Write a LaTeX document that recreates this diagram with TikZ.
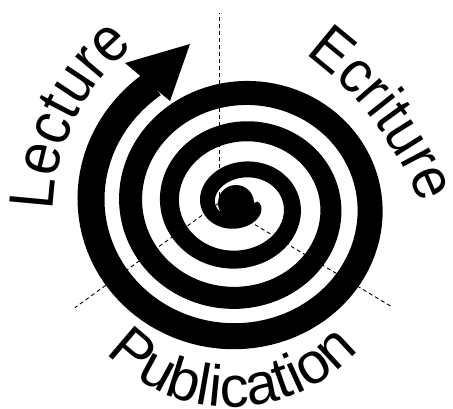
\documentclass[tikz,border=0pt]{standalone}
\usepackage{fontspec}
\newfontfamily\arialfont{Liberation Sans}
\newfontfamily\arialnarrow[FakeStretch=0.9]{Liberation Sans}
\newfontfamily\arialsemi[FakeStretch=0.93]{Liberation Sans}
\newcommand{\lecturefont}{\arialnarrow\fontsize{63}{66}\selectfont}
\newcommand{\ecriturefont}{\arialsemi\fontsize{60}{63}\selectfont}
\newcommand{\publifont}{\arialfont\fontsize{58}{60}\selectfont}
\usetikzlibrary{decorations.text}

\begin{document}
\begin{tikzpicture}[x=1pt, y=1pt,
        dashline/.style={black, line width=0.9pt, dash pattern=on 4pt off 3pt},
        arctext/.style 2 args={decorate, decoration={text along path, text={|#1|#2}}},
        declare function={rx(\t)=32.5+9.5*\t+0.02*\t*\t; ry(\t)=25.5+9.6*\t; wd(\t)=15+1.0*\t;}]
        \useasboundingbox (0,0) rectangle (453,408);

        % Hub of the three sectors
        \coordinate (hub) at (219,205);
        \coordinate (eye) at (240.5,203);

        % Draw dashed sector borders
        \foreach \ang/\len in {90/190, 216/178, 329/203}
            \draw[dashline] (hub) -- ++(\ang:\len);

        % Draw the spiral band, widening outwards
        \fill[black] plot[domain=-2.2:12.62, samples=400, variable=\t]
            ({240.5+(rx(\t)+wd(\t)/2)*cos(180-90*\t)}, {203+(ry(\t)+wd(\t)/2)*sin(180-90*\t)})
            -- plot[domain=12.62:-2.2, samples=400, variable=\t]
            ({240.5+(rx(\t)-wd(\t)/2)*cos(180-90*\t)}, {203+(ry(\t)-wd(\t)/2)*sin(180-90*\t)})
            -- cycle;

        % Center blob and arrow head
        \fill[black] (236,205) circle (18);
        \fill[black] (125,345) -- (190,364) -- (170,307) -- cycle;

        % Labels along arcs
        \coordinate (lectureC) at (270,193);
        \coordinate (ecritureC) at (105,82);
        \coordinate (publiC) at (231,172);
        \path[arctext={\lecturefont}{Lecture}] (lectureC) ++(178.8:217) arc[start angle=178.8, end angle=110, radius=217];
        \path[arctext={\ecriturefont}{Ecriture}] (ecritureC) ++(53.7:338) arc[start angle=53.7, end angle=-10, radius=338];
        \path[arctext={\publifont}{Publication}] (publiC) ++(223.2:171) arc[start angle=223.2, end angle=340, radius=171];
\end{tikzpicture}
\end{document}
